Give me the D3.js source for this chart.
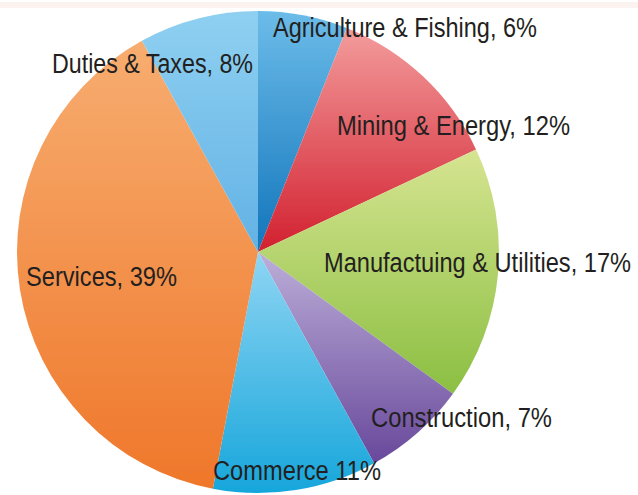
<!DOCTYPE html>
<html>
<head>
<meta charset="utf-8">
<script src="https://cdn.jsdelivr.net/npm/d3@7"></script>
<style>
  html, body { margin: 0; padding: 0; background: #fff; }
  svg { display: block; }
  .lbl { font-family: "Liberation Sans", Arial, sans-serif; fill: #231f20; }
</style>
</head>
<body>
<svg id="chart" width="638" height="495"></svg>
<script>
// Sector shares of output (%), clockwise from 12 o'clock
const sectors = ["Agriculture & Fishing", "Mining & Energy", "Manufactuing & Utilities",
                 "Construction", "Commerce", "Services", "Duties & Taxes"];
const shares = [6, 12, 17, 7, 11, 39, 8];
const labels = ["Agriculture & Fishing, 6%", "Mining & Energy, 12%", "Manufactuing & Utilities, 17%",
                "Construction, 7%", "Commerce 11%", "Services, 39%", "Duties & Taxes, 8%"];
// light (top) and dark (bottom) shade of each slice
const lightShades = ["#6cbce9", "#f39c9c", "#d6e491", "#bcaed8", "#8fd5f3", "#f7ad70", "#8fd0f1"];
const darkShades  = ["#1275bb", "#d2202f", "#8bbf42", "#68489b", "#16a6db", "#ef772a", "#62b2e5"];

// label anchor points (left x, baseline y) and rendered widths
const labelPos = [[273, 37], [337, 135], [324, 272], [371, 427], [213, 480], [26, 286], [52, 73]];
const labelWidth = [264, 233, 307, 181, 168, 151, 201];

const svg = d3.select("#chart");
const W = 638, H = 495;
const cx = 258, cy = 252, R = 241;

const defs = svg.append("defs");
defs.append("filter").attr("id", "soft")
  .attr("x", "-5%").attr("y", "-5%").attr("width", "110%").attr("height", "110%")
  .append("feGaussianBlur").attr("stdDeviation", 0.7);

sectors.forEach((s, i) => {
  const g = defs.append("linearGradient").attr("id", "grad" + i)
    .attr("x1", 0).attr("y1", 0).attr("x2", 0).attr("y2", 1);
  g.append("stop").attr("offset", "0%").attr("stop-color", lightShades[i]);
  g.append("stop").attr("offset", "100%").attr("stop-color", darkShades[i]);
});

// faint band along the top edge
svg.append("rect").attr("x", 0).attr("y", 2).attr("width", W).attr("height", 6)
  .attr("fill", "#fcf3f1");

const data = sectors.map((s, i) => ({ sector: s, value: shares[i], idx: i }));
const pie = d3.pie().value(d => d.value).sort(null);
const arc = d3.arc().innerRadius(0).outerRadius(R);

const g = svg.append("g").attr("transform", `translate(${cx},${cy})`)
  .attr("filter", "url(#soft)");
g.selectAll("path").data(pie(data)).join("path")
  .attr("d", arc)
  .attr("fill", d => `url(#grad${d.data.idx})`);

svg.append("g").selectAll("text").data(labels).join("text")
  .attr("class", "lbl")
  .attr("x", (d, i) => labelPos[i][0])
  .attr("y", (d, i) => labelPos[i][1])
  .attr("font-size", 27)
  .attr("textLength", (d, i) => labelWidth[i])
  .attr("lengthAdjust", "spacingAndGlyphs")
  .text(d => d);
</script>
</body>
</html>
